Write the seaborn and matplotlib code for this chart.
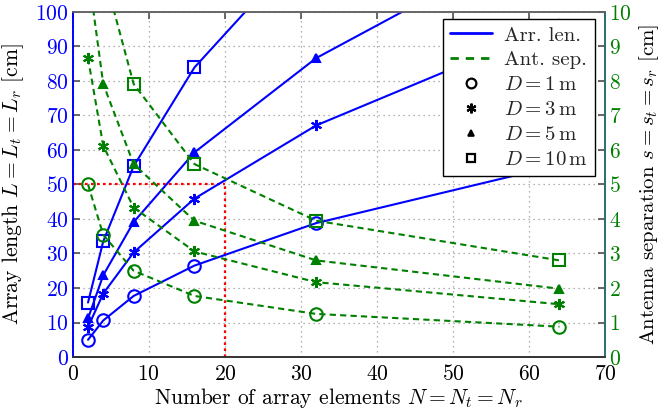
import matplotlib
matplotlib.use("Agg")
import matplotlib.pyplot as plt
import seaborn as sns
import pandas as pd
from matplotlib.lines import Line2D

# ---- data ----
N = [2, 4, 8, 16, 32, 64]
distances = ["1", "3", "5", "10"]
L_D1 = [5.0, 10.6, 17.7, 26.5, 38.8, 55.7]
L_D3 = [8.7, 18.4, 30.3, 45.9, 67.1, 96.5]
L_D5 = [11.2, 23.7, 39.1, 59.3, 86.6, 124.5]
L_D10 = [15.8, 33.5, 55.3, 83.9, 122.5, 176.0]
s_D1 = [5.0, 3.54, 2.5, 1.77, 1.25, 0.88]
s_D3 = [8.66, 6.12, 4.33, 3.06, 2.17, 1.53]
s_D5 = [11.18, 7.91, 5.59, 3.95, 2.80, 1.98]
s_D10 = [15.81, 11.18, 7.91, 5.59, 3.95, 2.80]
highlight_N = 20
highlight_L = 50

L_all = [L_D1, L_D3, L_D5, L_D10]
s_all = [s_D1, s_D3, s_D5, s_D10]

rows = []
for d, Ls, ss in zip(distances, L_all, s_all):
    for n, l, s in zip(N, Ls, ss):
        rows.append({"N": n, "D": d, "L": l, "s": s})
df = pd.DataFrame(rows)

sns.set_theme(style="white")
plt.rcParams["font.family"] = ["cmr10", "DejaVu Serif"]
plt.rcParams["mathtext.fontset"] = "cm"
plt.rcParams["axes.formatter.use_mathtext"] = True
plt.rcParams["axes.unicode_minus"] = False

BLUE = "#0000ff"
GREEN = "#008000"
markers = {"1": "o", "3": (6, 2, 0), "5": "^", "10": "s"}
msizes = {"1": 9, "3": 8, "5": 6, "10": 8}
filled = {"1": False, "3": True, "5": True, "10": False}

fig = plt.figure(figsize=(6.62, 4.09), dpi=100)
ax = fig.add_axes([0.110, 0.127, 0.804, 0.844])
ax2 = ax.twinx()

# red highlight lines
ax.plot([0, highlight_N], [highlight_L, highlight_L], color="red", ls=(0, (1.2, 1.5)), lw=1.6, zorder=2)
ax.plot([highlight_N, highlight_N], [0, highlight_L], color="red", ls=(0, (1.2, 1.5)), lw=1.6, zorder=2)

for d in distances:
    sub = df[df["D"] == d]
    mfc = BLUE if filled[d] else "none"
    sns.lineplot(data=sub, x="N", y="L", ax=ax, color=BLUE, lw=1.5,
                 marker=markers[d], markersize=msizes[d], markerfacecolor=mfc,
                 markeredgecolor=BLUE, markeredgewidth=1.5, zorder=4)
    mfc2 = GREEN if filled[d] else "none"
    sns.lineplot(data=sub, x="N", y="s", ax=ax2, color=GREEN, lw=1.5, ls=(0, (3, 2)),
                 marker=markers[d], markersize=msizes[d], markerfacecolor=mfc2,
                 markeredgecolor=GREEN, markeredgewidth=1.5, zorder=4)

ax.set_xlim(0, 70)
ax.set_ylim(0, 100)
ax2.set_ylim(0, 10)
ax.set_xticks(range(0, 71, 10))
ax.set_yticks(range(0, 101, 10))
ax2.set_yticks(range(0, 11, 1))

ax.grid(True, color="#999999", ls=(0, (1, 3)), lw=0.9)
ax.set_axisbelow(True)

TS = 15.5
ax.tick_params(axis="x", direction="in", length=5, colors="#555555", labelcolor="black",
               labelsize=TS, top=True, pad=5)
ax.tick_params(axis="y", direction="in", length=5, colors="#555555", labelcolor=BLUE,
               labelsize=TS, pad=3)
ax2.tick_params(axis="y", direction="in", length=5, colors="#555555", labelcolor=GREEN,
                labelsize=TS, pad=3)

LS = 15.5
ax.set_xlabel(r"Number of array elements $N = N_t = N_r$", fontsize=LS, color="black")
ax.set_ylabel(r"Array length $L = L_t = L_r$ [cm]", fontsize=LS, color="black")
ax2.set_ylabel(r"Antenna separation $s = s_t = s_r$ [cm]", fontsize=15, color="black")
ax.xaxis.set_label_coords(0.5, -0.083)
ax.yaxis.set_label_coords(-0.088, 0.5)
ax2.yaxis.set_label_coords(1.060, 0.5)

for a in (ax, ax2):
    for sp in a.spines.values():
        sp.set_linewidth(1.2)
ax.spines["left"].set_color(BLUE)
ax2.spines["left"].set_color(BLUE)
ax.spines["bottom"].set_color("#333333")
ax2.spines["bottom"].set_color("#333333")
ax.spines["top"].set_color("#666666")
ax2.spines["top"].set_color("#666666")
ax.spines["right"].set_color("#2a6e6e")
ax2.spines["right"].set_color("#2a6e6e")

handles = [
    Line2D([], [], color=BLUE, lw=2),
    Line2D([], [], color=GREEN, lw=2, ls=(0, (3, 2.5))),
    Line2D([], [], ls="none", marker="o", markersize=7, mfc="none", mec="black", mew=1.6),
    Line2D([], [], ls="none", marker=(6, 2, 0), markersize=7, mec="black", mew=1.6),
    Line2D([], [], ls="none", marker="^", markersize=5, mfc="black", mec="black", mew=1.2),
    Line2D([], [], ls="none", marker="s", markersize=6, mfc="none", mec="black", mew=1.6),
]
labels = ["Arr. len.", "Ant. sep.", r"$D = 1\,\mathrm{m}$", r"$D = 3\,\mathrm{m}$",
          r"$D = 5\,\mathrm{m}$", r"$D = 10\,\mathrm{m}$"]
leg = ax2.legend(handles, labels, loc="upper right", bbox_to_anchor=(0.981, 0.980),
                 borderaxespad=0, fontsize=15, frameon=True, fancybox=False, framealpha=1,
                 edgecolor="black", handlelength=2.0, handletextpad=0.6,
                 borderpad=0.35, labelspacing=0.3)
leg.get_frame().set_linewidth(1.0)
if ax.get_legend():
    ax.get_legend().remove()

fig.savefig("out.png", dpi=100)
